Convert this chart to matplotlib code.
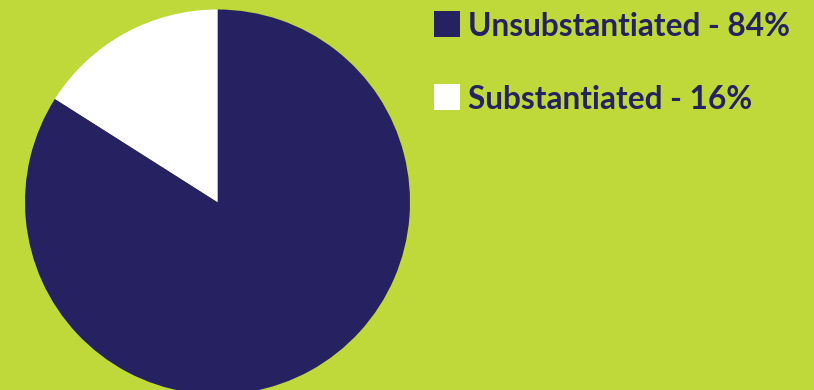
import matplotlib
matplotlib.use("Agg")
import matplotlib.pyplot as plt
from matplotlib.patches import Rectangle

# data
labels = ["Unsubstantiated", "Substantiated"]
shares = [84, 16]
colors = ["#262262", "#ffffff"]

BG = "#bfd83a"
INK = "#262262"

W, H = 814, 390
fig = plt.figure(figsize=(W / 100, H / 100), dpi=100, facecolor=BG)

# pie, sized in pixels
cx, cy, r = 217.5, 188, 192.5
ax = fig.add_axes([(cx - r) / W, (cy - r) / H, 2 * r / W, 2 * r / H])
ax.pie(shares, colors=colors, startangle=90, counterclock=False,
       wedgeprops=dict(linewidth=0))
ax.set_xlim(-1, 1)
ax.set_ylim(-1, 1)
ax.set_aspect("equal")
ax.axis("off")

# legend drawn by hand
for i, (lab, v, c) in enumerate(zip(labels, shares, colors)):
    top = 11 + i * 73
    fig.add_artist(Rectangle((434 / W, 1 - (top + 26) / H), 26 / W, 26 / H,
                             transform=fig.transFigure, fc=c, ec="none"))
    fig.text(468 / W, 1 - (top + 25) / H, f"{lab} - {v}%", fontsize=22.8,
             fontweight="bold", color=INK, family="Lato", va="baseline")

fig.savefig("out.png", dpi=100, facecolor=BG)
